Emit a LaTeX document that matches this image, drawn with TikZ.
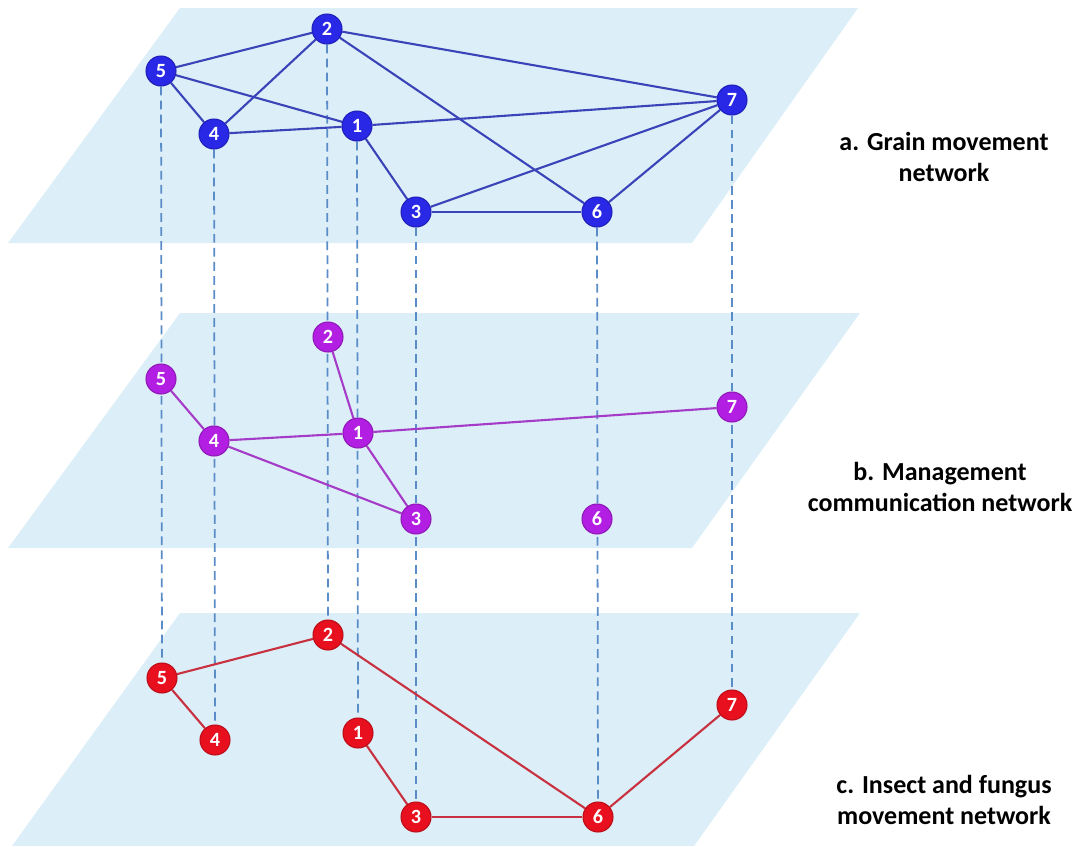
\documentclass[tikz,border=0pt]{standalone}
\usepackage{fontspec}
\setmainfont{Carlito}
\definecolor{plane}{HTML}{DCEEF8}
\definecolor{bnode}{HTML}{2828E6}
\definecolor{bedge}{HTML}{3A44B8}
\definecolor{pnode}{HTML}{B21EE2}
\definecolor{pedge}{HTML}{A43CC8}
\definecolor{rnode}{HTML}{E8101E}
\definecolor{redge}{HTML}{C83240}
\definecolor{dash}{HTML}{5A8CC8}
\pgfdeclarelayer{bg}
\pgfdeclarelayer{mid}
\pgfsetlayers{bg,mid,main}
\tikzset{
  nd/.style={circle, inner sep=0pt, minimum size=0.6cm, text=white, font=\fontsize{11.5}{12}\selectfont\bfseries, line width=0.6pt},
  bn/.style={nd, fill=bnode, draw=bnode!80!black},
  pn/.style={nd, fill=pnode, draw=pnode!80!black},
  rn/.style={nd, fill=rnode, draw=rnode!80!black},
  be/.style={draw=bedge, line width=1.2pt},
  pe/.style={draw=pedge, line width=1.2pt},
  re/.style={draw=redge, line width=1.2pt},
  vd/.style={draw=dash, line width=1pt, dash pattern=on 5pt off 3pt},
  lab/.style={align=center, font=\fontsize{14.8}{17.5}\selectfont\bfseries, text=black},
  planesty/.style={fill=plane, draw=none}
}
\begin{document}
\begin{tikzpicture}[x=0.02cm, y=-0.02cm]
\useasboundingbox (0,0) rectangle (1078,846);
% planes
\begin{pgfonlayer}{bg}
\path[planesty] (180,8) -- (858,8) -- (692,243) -- (8,243) -- cycle;
\path[planesty] (180,313) -- (860,313) -- (692,548) -- (8,548) -- cycle;
\path[planesty] (180,613) -- (860,613) -- (694,846) -- (12,846) -- cycle;
\end{pgfonlayer}
% top layer nodes
\node[bn] (a2) at (327,29) {2};
\node[bn] (a5) at (161,71) {5};
\node[bn] (a4) at (214,134) {4};
\node[bn] (a1) at (357,126) {1};
\node[bn] (a7) at (732,100) {7};
\node[bn] (a3) at (416,212) {3};
\node[bn] (a6) at (597,212) {6};
% middle layer nodes
\node[pn] (b2) at (328,337) {2};
\node[pn] (b5) at (161,379) {5};
\node[pn] (b4) at (214,441) {4};
\node[pn] (b1) at (358,433) {1};
\node[pn] (b7) at (732,407) {7};
\node[pn] (b3) at (416,519) {3};
\node[pn] (b6) at (597,519) {6};
% bottom layer nodes
\node[rn] (c2) at (328,635) {2};
\node[rn] (c5) at (162,678) {5};
\node[rn] (c4) at (215,740) {4};
\node[rn] (c1) at (358,733) {1};
\node[rn] (c7) at (732,705) {7};
\node[rn] (c3) at (416,817) {3};
\node[rn] (c6) at (598,817) {6};
\begin{pgfonlayer}{mid}
% dashed verticals
\path[vd] (a5) -- (c5);
\path[vd] (a4) -- (c4);
\path[vd] (a2) -- (c2);
\path[vd] (a1) -- (c1);
\path[vd] (a3) -- (c3);
\path[vd] (a6) -- (c6);
\path[vd] (a7) -- (c7);
% top edges
\path[be] (a2) -- (a5);
\path[be] (a2) -- (a4);
\path[be] (a2) -- (a7);
\path[be] (a2) -- (a6);
\path[be] (a5) -- (a4);
\path[be] (a5) -- (a1);
\path[be] (a4) -- (a1);
\path[be] (a1) -- (a7);
\path[be] (a1) -- (a3);
\path[be] (a3) -- (a7);
\path[be] (a3) -- (a6);
\path[be] (a6) -- (a7);
% middle edges
\path[pe] (b2) -- (b1);
\path[pe] (b5) -- (b4);
\path[pe] (b4) -- (b1);
\path[pe] (b1) -- (b7);
\path[pe] (b1) -- (b3);
\path[pe] (b4) -- (b3);
% bottom edges
\path[re] (c5) -- (c2);
\path[re] (c5) -- (c4);
\path[re] (c2) -- (c6);
\path[re] (c1) -- (c3);
\path[re] (c3) -- (c6);
\path[re] (c6) -- (c7);
\end{pgfonlayer}
% labels
\node[lab] (la) at (944,157) {a. Grain movement\\network};
\node[lab] (lb) at (940,487) {b. Management\\communication network};
\node[lab] (lc) at (944,800) {c. Insect and fungus\\movement network};
\end{tikzpicture}
\end{document}
